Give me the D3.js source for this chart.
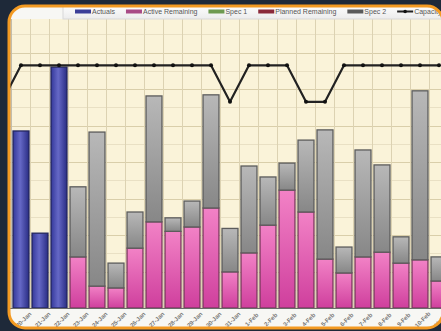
<!DOCTYPE html>
<html>
<head>
<meta charset="utf-8">
<script src="https://cdn.jsdelivr.net/npm/d3@7"></script>
<style>
  html, body { margin: 0; padding: 0; background: #1e2939; overflow: hidden; }
  svg { display: block; }
</style>
</head>
<body>
<svg id="chart" width="441" height="331"></svg>
<script>
// Daily categories; the first one sits under the left edge of the frame.
const categories = ["19-Jan","20-Jan","21-Jan","22-Jan","23-Jan","24-Jan","25-Jan","26-Jan",
  "27-Jan","28-Jan","29-Jan","30-Jan","31-Jan","1-Feb","2-Feb","3-Feb","4-Feb","5-Feb",
  "6-Feb","7-Feb","8-Feb","9-Feb","10-Feb","11-Feb"];

const actuals          = [null, 48.5, 20.5, 66, 0, 0, 0, 0, 0, 0, 0, 0, 0, 0, 0, 0, 0, 0, 0, 0, 0, 0, 0, 0];
const activeRemaining  = [null, 0, 0, 0, 14.0, 6.0, 5.5, 16.4, 23.6, 21.0, 22.2, 27.4, 9.9, 15.1, 22.7, 32.3, 26.3, 13.4, 9.6, 14.0, 15.3, 12.3, 13.2, 7.4];
const spec1            = [null, 0, 0, 0, 0, 0, 0, 0, 0, 0, 0, 0, 0, 0, 0, 0, 0, 0, 0, 0, 0, 0, 0, 0];
const plannedRemaining = [null, 0, 0, 0, 0, 0, 0, 0, 0, 0, 0, 0, 0, 0, 0, 0, 0, 0, 0, 0, 0, 0, 0, 0];
const spec2            = [null, 0, 0, 0, 19.2, 42.2, 6.8, 9.9, 34.5, 3.7, 7.1, 31.0, 11.9, 23.8, 13.2, 7.4, 19.7, 35.4, 7.1, 29.3, 23.9, 7.2, 46.3, 6.6];
const capacity         = [56.5, 66.5, 66.5, 66.5, 66.5, 66.5, 66.5, 66.5, 66.5, 66.5, 66.5, 66.5, 56.5, 66.5, 66.5, 66.5, 56.5, 56.5, 66.5, 66.5, 66.5, 66.5, 66.5, 66.5];

const seriesNames = ["Actuals", "Active Remaining", "Spec 1", "Planned Remaining", "Spec 2"];
const lineName = "Capacity";
const yMax = 80;
const yMajorStep = 10, yMinorStep = 5;

const svg = d3.select("#chart");

// Frame geometry
const frame = { x: 9, y: 6, w: 434, h: 322, r: 16 };
const plot = { left: 10, top: 19, bottom: 308, right: 450 };

const defs = svg.append("defs");
defs.append("clipPath").attr("id", "panelClip")
  .append("rect").attr("x", frame.x).attr("y", frame.y)
  .attr("width", frame.w).attr("height", frame.h).attr("rx", frame.r);

function grad(id, stops, horizontal) {
  const g = defs.append("linearGradient").attr("id", id)
    .attr("x1", 0).attr("y1", 0)
    .attr("x2", horizontal ? 1 : 0).attr("y2", horizontal ? 0 : 1);
  stops.forEach(([o, c]) => g.append("stop").attr("offset", o).attr("stop-color", c));
}
grad("gBlue", [[0, "#34389a"], [0.45, "#6568c6"], [1, "#2a2d84"]], true);
grad("gPink", [[0, "#f282c6"], [1, "#cf3f9d"]], false);
grad("gGray", [[0, "#b8b8b8"], [1, "#878787"]], false);
grad("gLegendBg", [[0, "#ffffff"], [1, "#ececec"]], false);

const fills = {
  "Actuals": "url(#gBlue)",
  "Active Remaining": "url(#gPink)",
  "Spec 1": "#7aa85a",
  "Planned Remaining": "#8e2c3c",
  "Spec 2": "url(#gGray)"
};
const strokes = {
  "Actuals": "#23265e",
  "Active Remaining": "#7a3a5c",
  "Spec 1": "#4a6a3a",
  "Planned Remaining": "#5a1a24",
  "Spec 2": "#5c5c5c"
};
const swatch = {
  "Actuals": "#3b3e98",
  "Active Remaining": "#a84a86",
  "Spec 1": "#6e9a50",
  "Planned Remaining": "#8a2a3a",
  "Spec 2": "#5a5a5a"
};

// Panel
svg.append("rect").attr("x", frame.x).attr("y", frame.y)
  .attr("width", frame.w).attr("height", frame.h).attr("rx", frame.r)
  .attr("fill", "#f7f7f4");

const panel = svg.append("g").attr("clip-path", "url(#panelClip)");

// Scales
const step = 19;
const x = d3.scaleBand().domain(categories)
  .range([-7.5, -7.5 + step * categories.length])
  .paddingInner(0.16).paddingOuter(0.08);
const y = d3.scaleLinear().domain([0, yMax]).range([plot.bottom, 16]);

// Plot background
panel.append("rect").attr("x", plot.left).attr("y", plot.top)
  .attr("width", plot.right - plot.left).attr("height", plot.bottom - plot.top)
  .attr("fill", "#faf3d9");

// Grid
const gridG = panel.append("g");
const minorTicks = d3.range(yMinorStep, yMax + 0.01, yMinorStep);
gridG.selectAll("line.h").data(minorTicks.filter(d => y(d) >= plot.top)).join("line")
  .attr("x1", plot.left).attr("x2", plot.right)
  .attr("y1", d => Math.round(y(d)) + 0.5).attr("y2", d => Math.round(y(d)) + 0.5)
  .attr("stroke", d => d % yMajorStep === 0 ? "#d9ceaa" : "#e9e0c4")
  .attr("stroke-width", 1);
gridG.selectAll("line.v").data(categories).join("line")
  .attr("x1", d => x(d) - x.step() * x.paddingInner() / 2)
  .attr("x2", d => x(d) - x.step() * x.paddingInner() / 2)
  .attr("y1", plot.top).attr("y2", plot.bottom)
  .attr("stroke", "#dcd2b2").attr("stroke-width", 1);

// Stacked bars
const rows = categories.map((c, i) => ({
  cat: c,
  "Actuals": actuals[i] || 0,
  "Active Remaining": activeRemaining[i] || 0,
  "Spec 1": spec1[i] || 0,
  "Planned Remaining": plannedRemaining[i] || 0,
  "Spec 2": spec2[i] || 0
}));
const stack = d3.stack().keys(seriesNames)(rows);

const barsG = panel.append("g");
stack.forEach(layer => {
  const key = layer.key;
  barsG.append("g").selectAll("rect")
    .data(layer.filter(d => d[1] - d[0] > 0))
    .join("rect")
    .attr("x", d => x(d.data.cat))
    .attr("width", x.bandwidth())
    .attr("y", d => y(d[1]))
    .attr("height", d => y(d[0]) - y(d[1]))
    .attr("fill", fills[key])
    .attr("stroke", strokes[key])
    .attr("stroke-width", 1.3);
});

// Axis baseline and left edge
panel.append("line").attr("x1", plot.left).attr("x2", plot.right)
  .attr("y1", plot.bottom + 0.5).attr("y2", plot.bottom + 0.5)
  .attr("stroke", "#6a6a6a").attr("stroke-width", 1.2);
panel.append("line").attr("x1", plot.left + 1).attr("x2", plot.left + 1)
  .attr("y1", plot.top).attr("y2", plot.bottom)
  .attr("stroke", "#a8a8a8").attr("stroke-width", 1);

// Capacity line
const cx = d => x(d) + x.bandwidth() / 2;
const lineData = categories.map((c, i) => ({ cat: c, v: capacity[i] }));
panel.append("path").datum(lineData)
  .attr("d", d3.line().x(d => cx(d.cat)).y(d => y(d.v)))
  .attr("fill", "none").attr("stroke", "#222").attr("stroke-width", 2.2)
  .attr("stroke-linejoin", "round");
panel.append("g").selectAll("circle").data(lineData).join("circle")
  .attr("cx", d => cx(d.cat)).attr("cy", d => y(d.v)).attr("r", 2)
  .attr("fill", "#111");

// Category labels (only those whose tick falls inside the panel)
panel.append("g").selectAll("text")
  .data(categories.filter(d => cx(d) > frame.x))
  .join("text")
  .attr("transform", d => `translate(${cx(d) + 3},${320}) rotate(-45)`)
  .attr("text-anchor", "middle").attr("dominant-baseline", "middle")
  .attr("font-family", "Liberation Sans, Arial, sans-serif")
  .attr("font-size", 6).attr("font-weight", "bold")
  .attr("fill", "#777")
  .text(d => d);

// Legend
const legG = panel.append("g");
legG.append("rect").attr("x", 63).attr("y", 4).attr("width", 400).attr("height", 15)
  .attr("fill", "url(#gLegendBg)").attr("stroke", "#d8d8d8").attr("stroke-width", 1);
let lx = 75;
const legendItems = seriesNames.concat([lineName]);
legendItems.forEach(name => {
  if (name === lineName) {
    legG.append("line").attr("x1", lx).attr("x2", lx + 16).attr("y1", 11.5).attr("y2", 11.5)
      .attr("stroke", "#222").attr("stroke-width", 2);
    legG.append("circle").attr("cx", lx + 8).attr("cy", 11.5).attr("r", 1.8).attr("fill", "#111");
  } else {
    legG.append("rect").attr("x", lx).attr("y", 9.5).attr("width", 16).attr("height", 4)
      .attr("fill", swatch[name]);
  }
  const t = legG.append("text").attr("x", lx + 17).attr("y", 12)
    .attr("dominant-baseline", "middle")
    .attr("font-family", "Liberation Sans, Arial, sans-serif")
    .attr("font-size", 7).attr("fill", "#555").text(name);
  lx += 17 + t.node().getComputedTextLength() + 11;
});

// Orange frame on top
svg.append("rect").attr("x", frame.x).attr("y", frame.y)
  .attr("width", frame.w).attr("height", frame.h).attr("rx", frame.r)
  .attr("fill", "none").attr("stroke", "#f39a22").attr("stroke-width", 3);
</script>
</body>
</html>
